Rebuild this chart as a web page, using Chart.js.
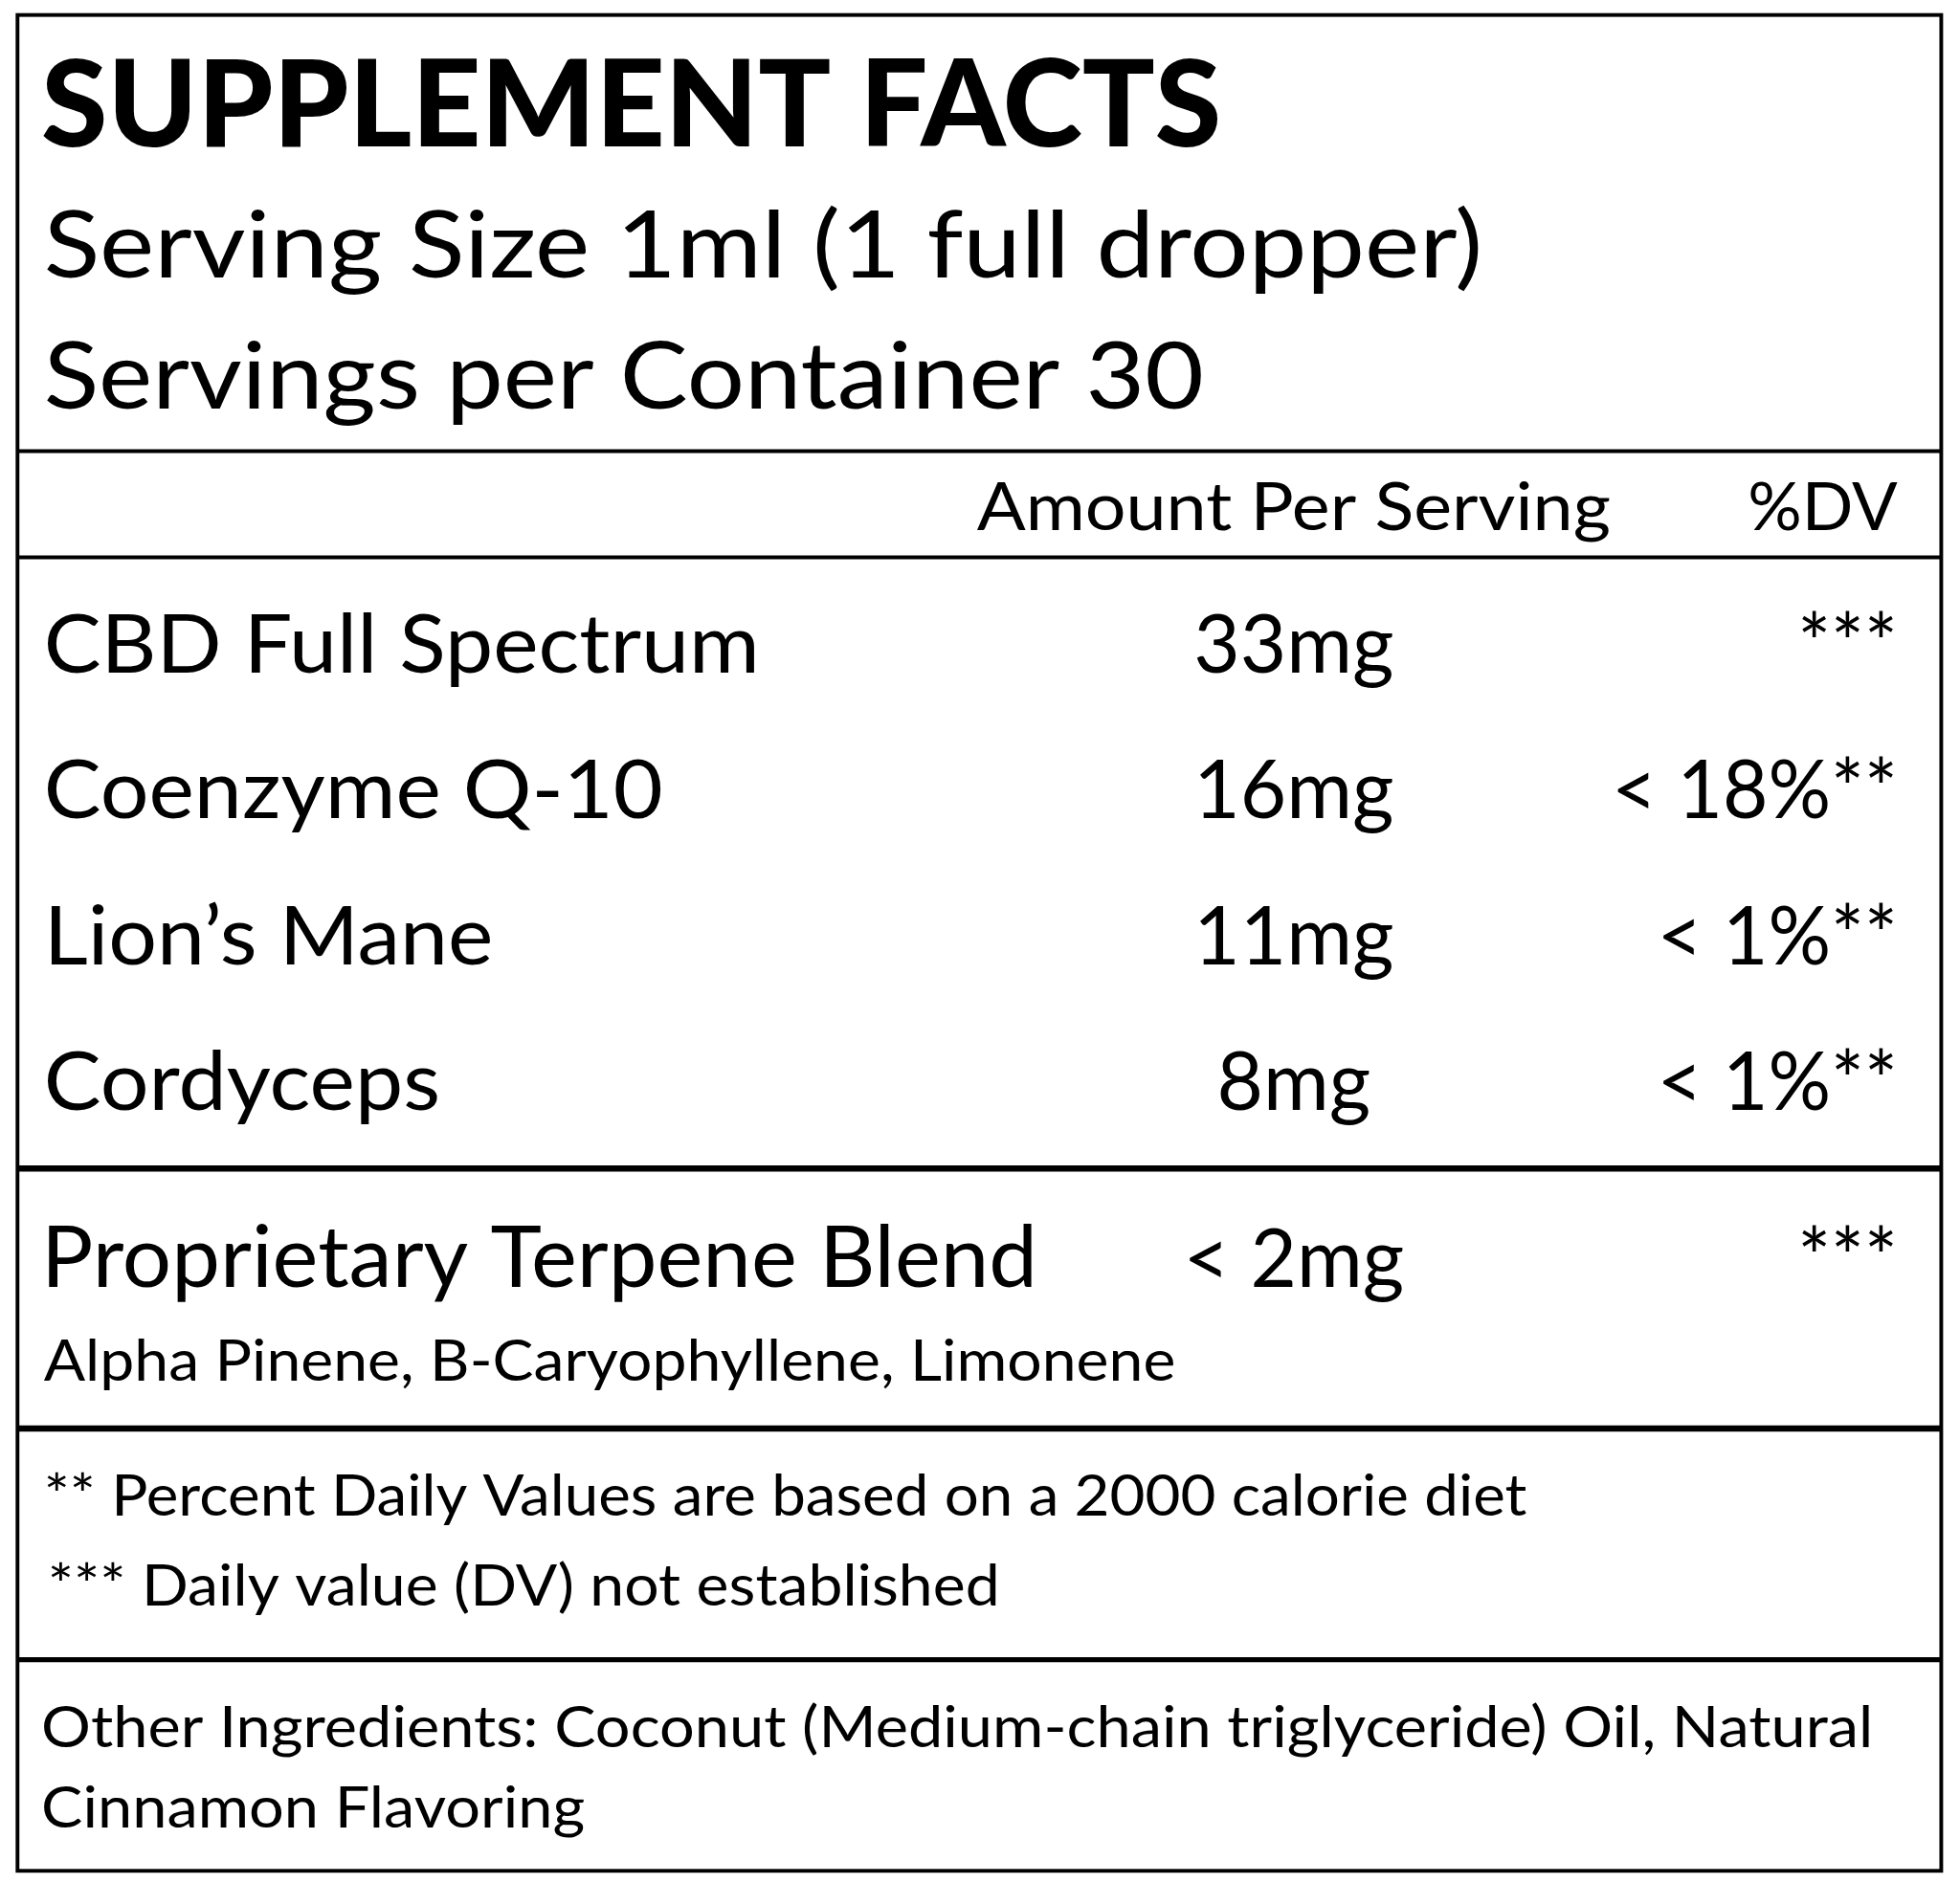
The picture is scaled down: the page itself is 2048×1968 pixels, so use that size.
<!DOCTYPE html>
<html>
<head>
<meta charset="utf-8">
<script src="https://cdn.jsdelivr.net/npm/chart.js@4"></script>
<style>
  html, body { margin: 0; padding: 0; background: #fff; }
  canvas { display: block; }
</style>
</head>
<body>
<canvas id="label" width="2048" height="1968"></canvas>
<script>
// label content
const title = 'SUPPLEMENT FACTS';
const servingLines = ['Serving Size 1ml (1 full dropper)', 'Servings per Container 30'];
const headers = ['Amount Per Serving', '%DV'];
const ingredients = ['CBD Full Spectrum', 'Coenzyme Q-10', 'Lion\u2019s Mane', 'Cordyceps'];
const amounts = ['33mg', '16mg', '11mg', '8mg'];
const dailyValues = ['***', '< 18%**', '< 1%**', '< 1%**'];
const blendName = 'Proprietary Terpene Blend';
const blendAmount = '< 2mg';
const blendDV = '***';
const blendParts = 'Alpha Pinene, B-Caryophyllene, Limonene';
const footnotes = ['** Percent Daily Values are based on a 2000 calorie diet', '*** Daily value (DV) not established'];
const otherIngredients = ['Other Ingredients: Coconut (Medium-chain triglyceride) Oil, Natural', 'Cinnamon Flavoring'];

const FONT = 'Lato, "Open Sans", sans-serif';

// draws the label text and rules on the chart canvas
const labelPlugin = {
    id: 'labelPlugin',
    afterDraw(chart) {
        const ctx = chart.ctx;
        const s = chart.width / 1568;
        ctx.save();
        ctx.scale(s, s);
        ctx.fillStyle = '#000';
        ctx.strokeStyle = '#000';
        ctx.textBaseline = 'alphabetic';

        // outer box
        ctx.lineWidth = 3;
        ctx.strokeRect(14, 12, 1539, 1485);

        function rule(y, w) {
            ctx.lineWidth = w;
            ctx.beginPath();
            ctx.moveTo(14, y);
            ctx.lineTo(1553, y);
            ctx.stroke();
        }
        // k stretches the text horizontally to match the reference face
        function text(t, x, y, size, align, weight, k) {
            ctx.save();
            ctx.font = (weight || 'normal') + ' ' + size + 'px ' + FONT;
            ctx.textAlign = align || 'left';
            ctx.translate(x, y);
            ctx.scale(k || 1, 1);
            ctx.fillText(t, 0, 0);
            ctx.restore();
        }

        text(title, 33, 117, 96, 'left', '900', 1.005);
        text(servingLines[0], 35, 222, 74, 'left', 'normal', 1.12);
        text(servingLines[1], 35, 327, 74, 'left', 'normal', 1.1);
        rule(361, 3);

        text(headers[0], 1035, 424, 54, 'center', 'normal', 1.07);
        text(headers[1], 1518, 424, 54, 'right', 'normal', 1.0);
        rule(446, 3);

        ingredients.forEach(function(name, i) {
            const y = 538 + i * 116.7;
            text(name, 35, y, 66, 'left', 'normal', 1.04);
            text(amounts[i], 1035, y, 66, 'center', 'normal', 0.97);
            text(dailyValues[i], 1518, y, 66, 'right', 'normal', 0.95);
        });
        rule(935, 5);

        text(blendName, 33, 1030, 68, 'left', 'normal', 1.02);
        text(blendAmount, 1035, 1030, 66, 'center', 'normal', 0.97);
        text(blendDV, 1518, 1030, 66, 'right', 'normal', 0.95);
        text(blendParts, 35, 1105, 46, 'left', 'normal', 1.07);
        rule(1143, 5);

        text(footnotes[0], 35, 1213, 46, 'left', 'normal', 1.06);
        text(footnotes[1], 38, 1285, 46, 'left', 'normal', 1.07);
        rule(1328, 4);

        text(otherIngredients[0], 33, 1398, 46, 'left', 'normal', 1.08);
        text(otherIngredients[1], 33, 1462, 46, 'left', 'normal', 1.08);
        ctx.restore();
    }
};

new Chart(document.getElementById('label').getContext('2d'), {
    type: 'bar',
    data: {
        labels: ingredients,
        datasets: [{ data: [], backgroundColor: 'rgba(0,0,0,0)' }]
    },
    options: {
        responsive: false,
        animation: false,
        devicePixelRatio: 1,
        plugins: { legend: { display: false }, tooltip: { enabled: false } },
        scales: { x: { display: false }, y: { display: false } }
    },
    plugins: [labelPlugin]
});
</script>
</body>
</html>
